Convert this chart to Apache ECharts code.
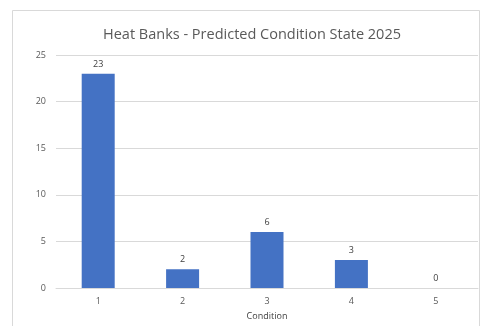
<!DOCTYPE html>
<html>
<head>
<meta charset="utf-8">
<script src="https://cdn.jsdelivr.net/npm/echarts@6/dist/echarts.min.js"></script>
<style>
  html, body { margin: 0; padding: 0; background: #ffffff; }
  #chart { width: 483px; height: 326px; }
</style>
</head>
<body>
<div id="chart"></div>
<script>
// Condition categories and predicted counts per condition
const categories = ['1', '2', '3', '4', '5'];
const counts = [23, 2, 6, 3, 0];
const yTicks = { min: 0, max: 25, interval: 5 };

const chart = echarts.init(document.getElementById('chart'));
chart.setOption({
  animation: false,
  backgroundColor: '#ffffff',
  graphic: [{
    type: 'rect',
    shape: { x: 12.5, y: 10.5, width: 467, height: 330 },
    style: { fill: 'none', stroke: '#d9d9d9', lineWidth: 1 },
    silent: true
  }],
  title: {
    text: 'Heat Banks - Predicted Condition State 2025',
    left: 98,
    top: 22,
    textStyle: { fontFamily: 'Open Sans', fontSize: 14.5, fontWeight: 'normal', color: '#595959' }
  },
  grid: { left: 56, right: 5, top: 55, bottom: 38, containLabel: false, outerBoundsMode: 'none' },
  xAxis: {
    type: 'category',
    data: categories,
    name: 'Condition',
    nameLocation: 'middle',
    nameGap: 24,
    nameTextStyle: { fontFamily: 'Open Sans', fontSize: 9, color: '#404040' },
    axisLine: { lineStyle: { color: '#d9d9d9' } },
    axisTick: { show: false },
    axisLabel: { fontFamily: 'Open Sans', fontSize: 9, color: '#595959', margin: 9 }
  },
  yAxis: {
    type: 'value',
    min: yTicks.min,
    max: yTicks.max,
    interval: yTicks.interval,
    axisLine: { show: false },
    axisTick: { show: false },
    axisLabel: { fontFamily: 'Open Sans', fontSize: 9, color: '#595959', margin: 10 },
    splitLine: { lineStyle: { color: '#d9d9d9' } }
  },
  series: [{
    type: 'bar',
    data: counts,
    barWidth: 33,
    itemStyle: { color: '#4472c4' },
    label: {
      show: true,
      position: 'top',
      distance: 5,
      fontFamily: 'Open Sans',
      fontSize: 9,
      color: '#404040'
    }
  }]
});
</script>
</body>
</html>
